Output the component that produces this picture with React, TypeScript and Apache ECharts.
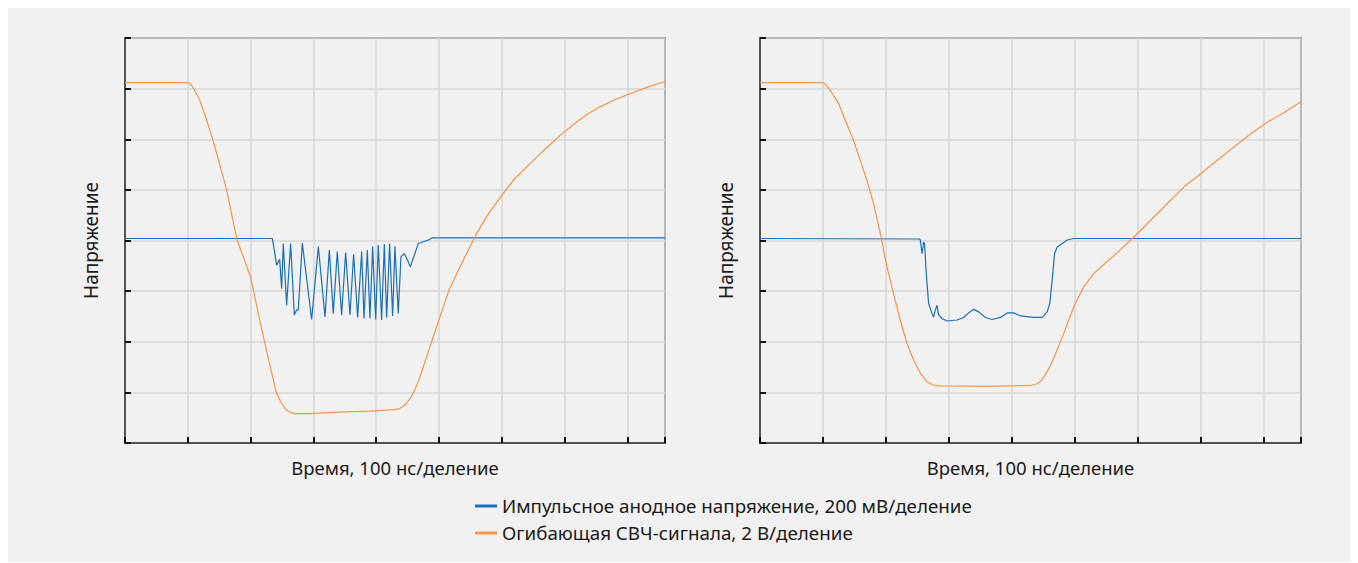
import React, { useEffect, useRef } from "react";
import * as echarts from "echarts";

// Time in ns (100 ns per division), voltage in divisions
const xTicksMax = 860;
const yDivisions = 8;

const legendNames = [
  "Импульсное анодное напряжение, 200 мВ/деление",
  "Огибающая СВЧ-сигнала, 2 В/деление",
];
const axisNameX = "Время, 100 нс/деление";
const axisNameY = "Напряжение";

const leftAnode: [number, number][] = [
  [0, 4.04], [234.6, 4.04], [237.8, 3.81], [241.5, 3.51], [244.2, 3.58], [246.3, 3.63],
  [249.5, 3.05], [252.1, 3.94], [257.4, 2.72], [263.8, 3.94], [269.6, 2.53], [273.4, 2.63],
  [276.0, 2.63], [282.4, 3.95], [297.2, 2.44], [307.9, 3.88], [318.5, 2.49], [325.4, 3.81],
  [331.7, 2.56], [338.1, 3.78], [345.0, 2.53], [351.4, 3.76], [358.3, 2.53], [364.1, 3.73],
  [370.5, 2.48], [376.9, 3.78], [380.6, 2.46], [385.9, 3.81], [390.1, 2.46], [394.4, 3.88],
  [399.2, 2.44], [403.4, 3.91], [408.7, 2.43], [413.0, 3.93], [416.7, 2.48], [421.4, 3.94],
  [426.2, 2.51], [429.9, 3.88], [435.2, 2.56], [439.5, 3.68], [444.8, 3.74], [450.1, 3.61],
  [454.4, 3.48], [459.1, 3.65], [467.1, 3.94], [483.0, 4.01], [488.3, 4.05], [860, 4.05],
];

const leftEnvelope: [number, number][] = [
  [0, 7.12], [100, 7.12], [104, 7.09], [108, 7.03], [113, 6.92], [119, 6.77], [129, 6.42],
  [140, 5.98], [151, 5.5], [162, 4.99], [178, 4.03], [200, 3.28], [219, 2.17], [241, 0.99],
  [249, 0.79], [257, 0.65], [264, 0.6], [270, 0.58], [294, 0.58], [341, 0.61], [389, 0.63],
  [430, 0.66], [437, 0.68], [443, 0.72], [448, 0.78], [457, 0.93], [468, 1.24], [489, 2.03],
  [516, 3.02], [538.7, 3.61], [560, 4.14], [580, 4.55], [602.4, 4.93], [620, 5.21],
  [639.6, 5.45], [660, 5.7], [682, 5.95], [700, 6.15], [719.3, 6.34], [737, 6.5],
  [756.4, 6.64], [780, 6.78], [804.1, 6.9], [830, 7.02], [860, 7.14],
];

const rightAnode: [number, number][] = [
  [0, 4.04], [253.7, 4.03], [254.8, 4.01], [257.5, 3.74], [259.1, 3.87], [260.0, 3.97],
  [261.6, 3.94], [264.3, 3.35], [268.0, 2.76], [273.4, 2.56], [276.0, 2.49], [278.7, 2.63],
  [281.4, 2.72], [283.9, 2.53], [289.3, 2.46], [297.3, 2.41], [313.2, 2.43], [323.7, 2.48],
  [331.7, 2.57], [339.6, 2.64], [347.6, 2.59], [358.3, 2.48], [369.0, 2.44], [382.2, 2.48],
  [392.8, 2.57], [403.3, 2.57], [414.0, 2.51], [435.2, 2.48], [448.6, 2.48], [456.5, 2.59],
  [460.7, 2.76], [464.5, 3.22], [468.2, 3.74], [472.5, 3.87], [480.4, 3.94], [488.4, 4.01],
  [498.9, 4.04], [860, 4.04],
];

const rightEnvelope: [number, number][] = [
  [0, 7.12], [99.8, 7.12], [105, 7.07], [111.5, 6.97], [124.7, 6.71], [135.4, 6.38],
  [148.6, 5.98], [159.2, 5.59], [169.9, 5.19], [180.5, 4.73], [191.1, 4.14], [201.8, 3.48],
  [212.3, 2.95], [222.9, 2.43], [233.6, 1.97], [244.1, 1.64], [254.8, 1.38], [265.4, 1.21],
  [276.0, 1.14], [286.6, 1.13], [360, 1.12], [432, 1.14], [440.6, 1.17], [446, 1.22],
  [451.1, 1.3], [456, 1.4], [461.8, 1.53], [472.4, 1.84], [483.0, 2.17], [498.9, 2.69],
  [514.8, 3.09], [530.7, 3.35], [546.7, 3.53], [568.0, 3.76], [594.4, 4.07], [621.0, 4.4],
  [647.6, 4.73], [674.0, 5.06], [700.6, 5.32], [727.2, 5.59], [753.7, 5.85], [780.3, 6.11],
  [806.8, 6.34], [833.3, 6.53], [859.9, 6.74],
];

const BLUE = "#1b6fb8";
const ORANGE = "#f7964b";
const FONT = "'Noto Sans', sans-serif";

export default function App() {
  const ref = useRef<HTMLDivElement>(null);
  useEffect(() => {
    if (!ref.current) return;
    const chart = echarts.init(ref.current, undefined, { renderer: "svg" });
    const xAxisBase = (gridIndex: number) => ({
      type: "value" as const,
      gridIndex,
      min: 0,
      max: xTicksMax,
      interval: 100,
      name: axisNameX,
      nameLocation: "middle" as const,
      nameGap: 15,
      nameTextStyle: { color: "#1a1a1a", fontSize: 18.5, fontFamily: FONT },
      axisLabel: { show: false },
      axisLine: { show: true, lineStyle: { color: "#333", width: 1.5 } },
      axisTick: { show: true, inside: true, length: 6, lineStyle: { color: "#111", width: 2 } },
      splitLine: { show: true, lineStyle: { color: "#d6d6d6", width: 1.5 } },
    });
    const yAxisBase = (gridIndex: number) => ({
      type: "value" as const,
      gridIndex,
      min: 0,
      max: yDivisions,
      interval: 1,
      name: axisNameY,
      nameLocation: "middle" as const,
      nameGap: 25,
      nameTextStyle: { color: "#1a1a1a", fontSize: 19, fontFamily: FONT },
      axisLabel: { show: false },
      axisLine: { show: true, lineStyle: { color: "#333", width: 1.5 } },
      axisTick: { show: true, inside: true, length: 6, lineStyle: { color: "#111", width: 2 } },
      splitLine: { show: true, lineStyle: { color: "#d6d6d6", width: 1.5 } },
    });
    const line = (name: string, data: [number, number][], color: string, idx: number) => ({
      type: "line" as const,
      name,
      data,
      xAxisIndex: idx,
      yAxisIndex: idx,
      showSymbol: false,
      symbol: "none",
      color,
      lineStyle: { color, width: 1.2 },
      z: color === ORANGE ? 3 : 2,
    });
    chart.setOption({
      animation: false,
      backgroundColor: "transparent",
      textStyle: { fontFamily: FONT },
      grid: [
        { left: 117, top: 30, width: 540, height: 405, show: true, borderColor: "#333", borderWidth: 1.5, backgroundColor: "transparent" },
        { left: 752, top: 30, width: 541, height: 405, show: true, borderColor: "#333", borderWidth: 1.5, backgroundColor: "transparent" },
      ],
      xAxis: [xAxisBase(0), xAxisBase(1)],
      yAxis: [yAxisBase(0), yAxisBase(1)],
      legend: {
        orient: "vertical",
        left: 462,
        top: 481,
        itemWidth: 22,
        itemHeight: 3,
        itemGap: 3,
        icon: "rect",
        data: legendNames,
        textStyle: { color: "#1a1a1a", fontSize: 18.8, lineHeight: 24, fontFamily: FONT },
      },
      series: [
        line(legendNames[0], leftAnode, BLUE, 0),
        line(legendNames[1], leftEnvelope, ORANGE, 0),
        line(legendNames[0], rightAnode, BLUE, 1),
        line(legendNames[1], rightEnvelope, ORANGE, 1),
      ],
    });
    return () => chart.dispose();
  }, []);
  return (
    <div
      ref={ref}
      style={{ width: 1350, height: 554, background: "#f1f1f1" }}
    />
  );
}
